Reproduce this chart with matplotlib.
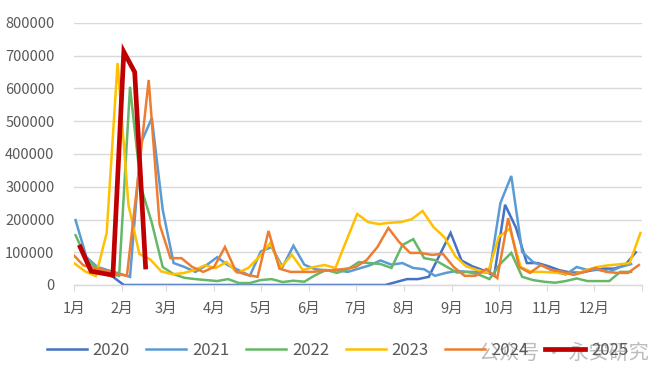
import matplotlib
matplotlib.use("Agg")
import matplotlib.pyplot as plt
import numpy as np

plt.rcParams['font.family'] = ['Noto Sans CJK SC', 'DejaVu Sans']

# weekly values (thousands), first point's day-of-year per year
years = ["2020", "2021", "2022", "2023", "2024", "2025"]
start_day = {"2020": 4, "2021": 1, "2022": 1, "2023": 0, "2024": -1, "2025": 4}

v2020 = [110, 55, 40, 25] + [0] * 25 + [9, 18, 18, 25, 92, 159, 75, 57, 45, 28,
         245, 175, 67, 67, 57, 45, 38, 38, 45, 50, 50, 60, 100]
v2021 = [198, 85, 55, 45, 35, 25, 433, 510, 230, 67, 55, 40, 60, 85, 60, 45, 28,
         102, 116, 55, 120, 62, 48, 45, 45, 40, 50, 60, 75, 62, 67, 52, 48, 28, 37,
         43, 40, 40, 37, 250, 333, 101, 70, 57, 40, 32, 55, 46, 46, 40, 55, 64]
v2022 = [152, 80, 50, 35, 28, 605, 300, 190, 55, 33, 22, 18, 15, 12, 18, 6, 6, 15,
         18, 9, 13, 10, 30, 46, 37, 48, 70, 67, 64, 52, 122, 140, 82, 76, 57, 38, 40,
         32, 18, 65, 98, 25, 15, 10, 7, 12, 20, 12, 12, 12, 40, 40]
v2023 = [67, 42, 27, 159, 678, 244, 95, 78, 42, 33, 36, 45, 60, 52, 70, 37, 52, 86,
         128, 55, 92, 46, 55, 61, 52, 135, 217, 192, 186, 190, 192, 201, 226, 177,
         146, 88, 57, 46, 38, 147, 172, 55, 40, 40, 38, 35, 33, 45, 55, 60, 63, 67, 159]
v2024 = [95, 60, 52, 45, 35, 28, 320, 626, 185, 82, 82, 55, 40, 55, 116, 42, 31, 25,
         165, 50, 40, 40, 40, 43, 46, 49, 55, 76, 116, 174, 131, 98, 98, 92, 95, 55,
         28, 28, 49, 21, 204, 55, 37, 61, 46, 40, 31, 40, 52, 40, 37, 37, 61]
v2025 = [116, 42, 36, 30, 712, 650, 55]

values = {"2020": v2020, "2021": v2021, "2022": v2022,
          "2023": v2023, "2024": v2024, "2025": v2025}
colors = {"2020": "#4472C4", "2021": "#5B9BD5", "2022": "#65B868",
          "2023": "#FFC000", "2024": "#ED7D31", "2025": "#C00000"}

month_days = [0, 31, 59, 90, 120, 151, 181, 212, 243, 273, 304, 334, 365]
month_labels = [f"{m}月" for m in range(1, 13)]

fig = plt.figure(figsize=(6.68, 3.78), dpi=100)
ax = fig.add_axes([74 / 668, 1 - 285 / 378, 568 / 668, 262 / 378])

for y in years:
    vals = np.array(values[y]) * 1000
    x = start_day[y] + 7 * np.arange(len(vals))
    lw = 3.4 if y == "2025" else 1.8
    ax.plot(x, vals, color=colors[y], lw=lw, label=y, solid_joinstyle='miter')

ax.set_xlim(0, 365)
ax.set_ylim(0, 800000)
ax.set_yticks(np.arange(0, 800001, 100000))
ax.set_yticklabels([str(v) for v in range(0, 800001, 100000)])
ax.set_xticks(month_days)
ax.set_xticklabels(month_labels + [""])
ax.grid(axis='y', color='#D9D9D9', lw=1)
ax.set_axisbelow(True)
for s in ["top", "right", "left"]:
    ax.spines[s].set_visible(False)
ax.spines["bottom"].set_color("#D9D9D9")
ax.spines["bottom"].set_linewidth(1)
ax.tick_params(axis='y', length=0, pad=14, labelsize=10.5, labelcolor='#595959')
ax.tick_params(axis='x', length=4, color='#D9D9D9', pad=8, labelsize=10.5,
               labelcolor='#595959')

fig.legend(loc='center', bbox_to_anchor=(0.505, 0.074), ncol=6, frameon=False,
           fontsize=12, handlelength=2.4, handletextpad=0.35, columnspacing=1.0,
           labelcolor='#595959')

# watermark
fig.text(0.972, 0.066, "公众号 · 永安研究", ha='right', va='center', fontsize=14.5,
         color='#A6A6A6', alpha=0.75)

fig.savefig("out.png", dpi=100)
